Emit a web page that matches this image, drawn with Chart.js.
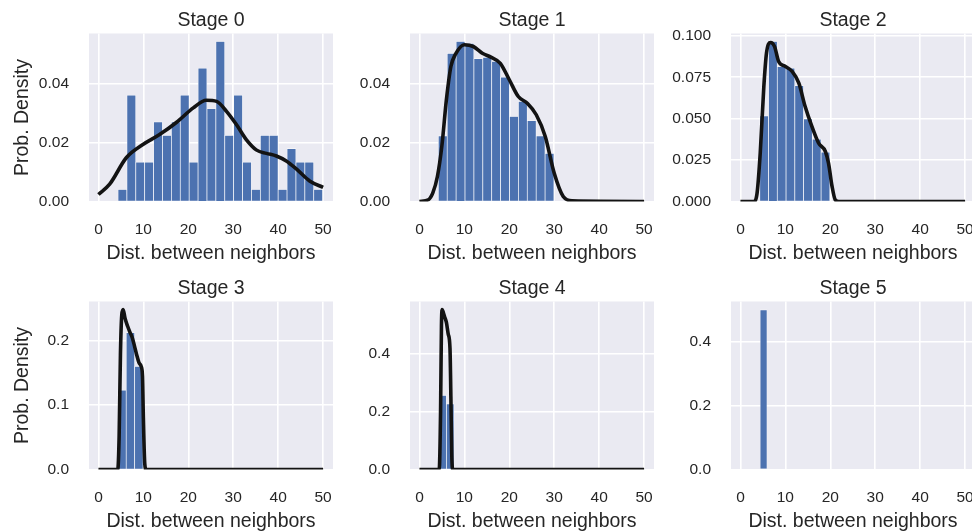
<!DOCTYPE html>
<html>
<head>
<meta charset="utf-8">
<script src="https://cdn.jsdelivr.net/npm/chart.js@4.4.1/dist/chart.umd.min.js"></script>
<style>
  html, body { margin: 0; padding: 0; background: #fff; overflow: hidden; }
  #fig { position: relative; width: 972px; height: 532px; overflow: hidden; background: #fff; }
  #fig canvas { position: absolute; }
</style>
</head>
<body>
<div id="fig"></div>
<script>
// --- data ---
const stageNames = ['Stage 0', 'Stage 1', 'Stage 2', 'Stage 3', 'Stage 4', 'Stage 5'];
const xTicks = [0, 10, 20, 30, 40, 50];

// histogram bins: first edge, width, density per bin
const binStart = [4.35, 4.2, 4.3, 4.3, 4.3, 4.3];
const binWidth = [1.98, 1.98, 1.95, 1.88, 1.7, 1.7];
const hist0 = [0.0041, 0.0362, 0.0134, 0.0134, 0.0271, 0.0225, 0.0271, 0.0362, 0.0134, 0.0454, 0.0316, 0.0545,
               0.0225, 0.0362, 0.0134, 0.0041, 0.0225, 0.0225, 0.0041, 0.0180, 0.0134, 0.0134, 0.0041];
const hist1 = [0.0223, 0.0504, 0.0544, 0.0538, 0.0486, 0.0490, 0.0476, 0.0423, 0.0289, 0.0340, 0.0275, 0.0223, 0.0164];
const hist2 = [0.0517, 0.0966, 0.0815, 0.0805, 0.0700, 0.0499, 0.0376, 0.0298];
const hist3 = [0.123, 0.212, 0.160];
const hist4 = [0.257, 0.228];
const hist5 = [0.5];

// kde curves
const kdeX0 = [0, 2.5, 6.2, 9.9, 13.6, 17.4, 21.1, 24.0, 26.3, 28.5, 30.7, 32.9, 35.2, 37.4, 39.6, 41.8, 44.1, 47.0, 50];
const kdeY0 = [0.0024, 0.0059, 0.0149, 0.0194, 0.0228, 0.027, 0.0319, 0.0345, 0.0341, 0.0307, 0.0262, 0.0211,
               0.0175, 0.0164, 0.0155, 0.0138, 0.011, 0.007, 0.0048];
const kdeX1 = [0, 2, 3, 4, 5, 6, 7, 8, 10, 12, 14, 16, 18, 20, 22, 24, 26, 28, 30, 32, 34, 50];
const kdeY1 = [0, 0.0006, 0.003, 0.0085, 0.019, 0.0346, 0.0459, 0.050, 0.0533, 0.0527, 0.0504, 0.049, 0.047,
               0.0414, 0.0357, 0.0334, 0.0295, 0.0221, 0.0096, 0.0017, 0.0002, 0];
const kdeX2 = [0, 2.96, 3.7, 4.4, 5.2, 5.8, 6.7, 7.6, 8.5, 10.0, 11.5, 13.0, 14.4, 15.9, 17.4, 18.9, 19.6, 20.4, 21.1, 21.9, 50];
const kdeY2 = [0, 0, 0.005, 0.029, 0.069, 0.0896, 0.096, 0.0935, 0.0845, 0.0815, 0.0785, 0.0714, 0.0573, 0.0453,
               0.0352, 0.0302, 0.0232, 0.009, 0.001, 0, 0];
const kdeX3 = [0, 4.3, 4.6, 4.9, 5.2, 5.5, 5.9, 6.5, 7.0, 7.5, 8.0, 8.5, 9.0, 9.5, 9.8, 10.0, 10.3, 10.6, 50];
const kdeY3 = [0, 0, 0.05, 0.18, 0.24, 0.248, 0.235, 0.222, 0.213, 0.205, 0.192, 0.178, 0.166, 0.16, 0.145, 0.08, 0.01, 0, 0];
const kdeX4 = [0, 4.4, 4.7, 4.9, 5.05, 5.3, 5.6, 6.0, 6.4, 6.8, 7.0, 7.2, 7.4, 50];
const kdeY4 = [0, 0, 0.2, 0.5, 0.555, 0.545, 0.53, 0.51, 0.47, 0.42, 0.25, 0.05, 0, 0];
const kdeX5 = [];
const kdeY5 = [];

// y tick labels per panel
const yLabels0 = ['0.00', '0.02', '0.04'];
const yLabels1 = ['0.00', '0.02', '0.04'];
const yLabels2 = ['0.000', '0.025', '0.050', '0.075', '0.100'];
const yLabels3 = ['0.0', '0.1', '0.2'];
const yLabels4 = ['0.0', '0.2', '0.4'];
const yLabels5 = ['0.0', '0.2', '0.4'];

const hists = [hist0, hist1, hist2, hist3, hist4, hist5];
const kdeXs = [kdeX0, kdeX1, kdeX2, kdeX3, kdeX4, kdeX5];
const kdeYs = [kdeY0, kdeY1, kdeY2, kdeY3, kdeY4, kdeY5];
const yLabels = [yLabels0, yLabels1, yLabels2, yLabels3, yLabels4, yLabels5];

// --- style ---
const TEXT = '#262626';
const FONT = "'Liberation Sans', Arial, sans-serif";
Chart.defaults.font.family = FONT;
Chart.defaults.color = TEXT;

const CV_W = 333, CV_H = 264;
const Y_W = 89, X_H = 62.5;

// plot background like seaborn darkgrid
const plotBg = {
  id: 'plotBg',
  beforeDraw(chart) {
    const { ctx, chartArea: a } = chart;
    ctx.save();
    ctx.fillStyle = '#EAEAF2';
    ctx.fillRect(a.left, a.top, a.right - a.left, a.bottom - a.top);
    ctx.restore();
  }
};

const fig = document.getElementById('fig');

function drawPanel(i) {
  const col = i % 3, row = Math.floor(i / 3);
  const cv = document.createElement('canvas');
  cv.width = CV_W;
  cv.height = CV_H;
  cv.style.left = (321 * col) + 'px';
  cv.style.top = (268 * row) + 'px';
  fig.appendChild(cv);

  const h = hists[i];
  const bars = h.map((v, j) => ({ x: binStart[i] + (j + 0.5) * binWidth[i], y: v }));
  const kde = kdeXs[i].map((x, j) => ({ x: x, y: kdeYs[i][j] }));
  const yMax = 1.05 * Math.max(...h, ...kdeYs[i]);
  const yVals = yLabels[i].map(Number);
  // bar width relative to the smallest spacing chart.js sees (bins, or ticks for a single bin)
  const spacing = h.length > 1 ? binWidth[i] : xTicks[1] - xTicks[0];

  new Chart(cv, {
    type: 'bar',
    data: {
      datasets: [
        {
          type: 'line',
          data: kde,
          borderColor: '#131313',
          borderWidth: 3.6,
          pointRadius: 0,
          cubicInterpolationMode: 'monotone',
          clip: 0,
          order: 0
        },
        {
          type: 'bar',
          data: bars,
          backgroundColor: '#4C72B0',
          borderColor: 'rgba(255,255,255,0.75)',
          borderWidth: 0.7,
          barPercentage: binWidth[i] / spacing,
          categoryPercentage: 1,
          clip: 0,
          order: 1
        }
      ]
    },
    options: {
      responsive: false,
      animation: false,
      events: [],
      layout: { padding: 0 },
      plugins: {
        legend: { display: false },
        tooltip: { enabled: false },
        title: {
          display: true,
          text: stageNames[i],
          color: TEXT,
          fullSize: false,
          font: { size: 19.5, weight: 'normal' },
          padding: { top: 9.3, bottom: 0.8 }
        }
      },
      scales: {
        x: {
          type: 'linear',
          min: -2.1,
          max: 52.2,
          offset: false,
          grid: { color: '#ffffff', lineWidth: 1.6, drawTicks: false, offset: false },
          border: { display: false },
          ticks: {
            color: TEXT, font: { size: 15.5 }, padding: 19,
            maxRotation: 0, autoSkip: false,
            callback: v => String(v)
          },
          afterBuildTicks: s => { s.ticks = xTicks.map(v => ({ value: v })); },
          afterFit: s => { s.height = X_H; s.paddingLeft = 0; s.paddingRight = 0; },
          title: {
            display: true, text: 'Dist. between neighbors', color: TEXT,
            font: { size: 19.5, lineHeight: 1.1 }, padding: { top: 0, bottom: 0 }
          }
        },
        y: {
          type: 'linear',
          min: 0,
          max: yMax,
          grid: { color: '#ffffff', lineWidth: 1.6, drawTicks: false },
          border: { display: false },
          ticks: {
            color: TEXT, font: { size: 15.5 }, padding: 20, autoSkip: false,
            callback: (v, idx) => yLabels[i][idx]
          },
          afterBuildTicks: s => { s.ticks = yVals.map(v => ({ value: v })); },
          afterFit: s => { s.width = Y_W; s.paddingTop = 0; s.paddingBottom = 0; },
          title: {
            display: col === 0, text: 'Prob. Density', color: TEXT,
            font: { size: 19.5 }, padding: { top: 10.5, bottom: 0 }
          }
        }
      }
    },
    plugins: [plotBg]
  });
}

for (let i = 0; i < 6; i++) drawPanel(i);
</script>
</body>
</html>
